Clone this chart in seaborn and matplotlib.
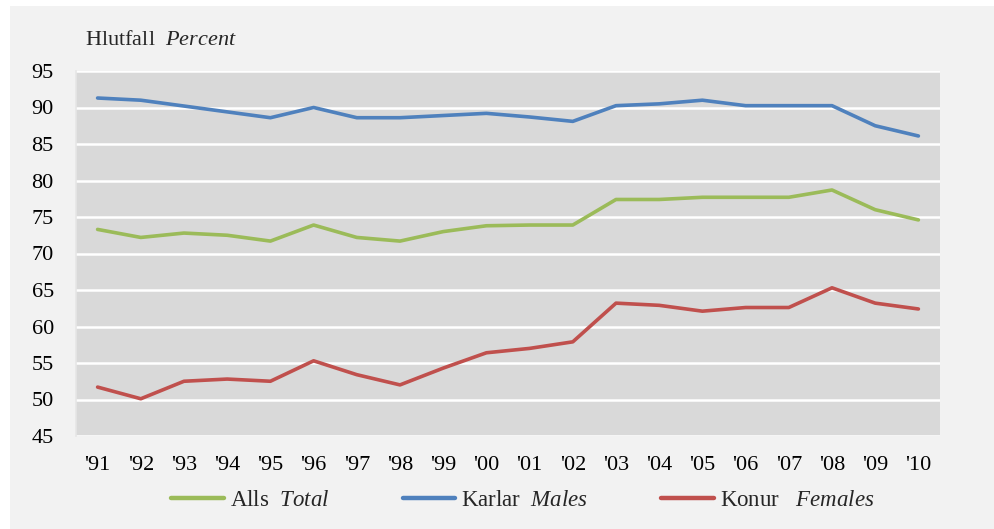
import matplotlib
matplotlib.use("Agg")
import matplotlib.pyplot as plt
from matplotlib.patches import Rectangle
import seaborn as sns
import pandas as pd

years = ["'91", "'92", "'93", "'94", "'95", "'96", "'97", "'98", "'99", "'00",
         "'01", "'02", "'03", "'04", "'05", "'06", "'07", "'08", "'09", "'10"]
total = [73.3, 72.2, 72.8, 72.5, 71.7, 73.9, 72.2, 71.7, 73.0, 73.8,
         73.9, 73.9, 77.4, 77.4, 77.7, 77.7, 77.7, 78.7, 76.0, 74.6]
males = [91.3, 91.0, 90.2, 89.4, 88.6, 90.0, 88.6, 88.6, 88.9, 89.2,
         88.7, 88.1, 90.25, 90.5, 91.0, 90.25, 90.25, 90.25, 87.5, 86.1]
females = [51.7, 50.1, 52.5, 52.8, 52.5, 55.3, 53.4, 52.0, 54.3, 56.4,
           57.0, 57.9, 63.2, 62.9, 62.1, 62.6, 62.6, 65.3, 63.2, 62.4]
series_labels = [r"Alls  $\it{Total}$", r"Karlar  $\it{Males}$", r"Konur   $\it{Females}$"]
y_ticks = [45, 50, 55, 60, 65, 70, 75, 80, 85, 90, 95]

colors = ["#9BBB59", "#4F81BD", "#C0504D"]

sns.set_style("darkgrid", {"axes.facecolor": "#D9D9D9", "grid.color": "white"})
plt.rcParams["font.family"] = ["Liberation Serif", "DejaVu Serif"]
plt.rcParams["mathtext.fontset"] = "custom"
plt.rcParams["mathtext.rm"] = "Liberation Serif"
plt.rcParams["mathtext.it"] = "Liberation Serif:italic"

rows = []
for lab, vals in zip(series_labels, [total, males, females]):
    for i, (yr, v) in enumerate(zip(years, vals)):
        rows.append({"x": i, "year": yr, "value": v, "series": lab})
df = pd.DataFrame(rows)

fig = plt.figure(figsize=(9.94, 5.29), dpi=100)
fig.patch.set_facecolor("white")
fig.add_artist(Rectangle((10 / 994, 0), 1 - 10 / 994, (529 - 6) / 529,
                         transform=fig.transFigure, facecolor="#F2F2F2",
                         edgecolor="none", zorder=-10))

ax = fig.add_axes([76 / 994, (529 - 436) / 529, (940 - 76) / 994, (436 - 71) / 529])
sns.lineplot(data=df, x="x", y="value", hue="series", palette=colors,
             hue_order=series_labels, linewidth=2.6, ax=ax, legend=False,
             estimator=None)

ax.set_xlim(-0.5, len(years) - 0.5)
ax.set_ylim(45, 95)
ax.set_yticks(y_ticks)
ax.set_xticks(range(len(years)))
ax.set_xticklabels(years)
ax.grid(axis="x", visible=False)
ax.grid(axis="y", color="white", linewidth=1.8)
ax.set_axisbelow(True)
for s in ["top", "right", "bottom"]:
    ax.spines[s].set_visible(False)
ax.spines["left"].set_visible(True)
ax.spines["left"].set_color("#E6E6E6")
ax.spines["left"].set_linewidth(1.2)
ax.tick_params(axis="y", length=0, pad=16, labelsize=16, colors="black")
ax.tick_params(axis="x", length=0, pad=14.5, labelsize=16, colors="black")
ax.set_xlabel("")
ax.set_ylabel("")

fig.text(85 / 994, 1 - 40 / 529, r"Hlutfall  $\it{Percent}$", fontsize=16,
         ha="left", va="center")

handles = [plt.Line2D([], [], color=c, linewidth=3.2) for c in colors]
fig.legend(handles, series_labels, loc="center", bbox_to_anchor=(0.526, 1 - 500 / 529),
           ncol=3, frameon=False, fontsize=16.5, handlelength=2.3,
           handletextpad=0.25, columnspacing=3.2)

fig.savefig("out.png", dpi=100, facecolor=fig.get_facecolor())
